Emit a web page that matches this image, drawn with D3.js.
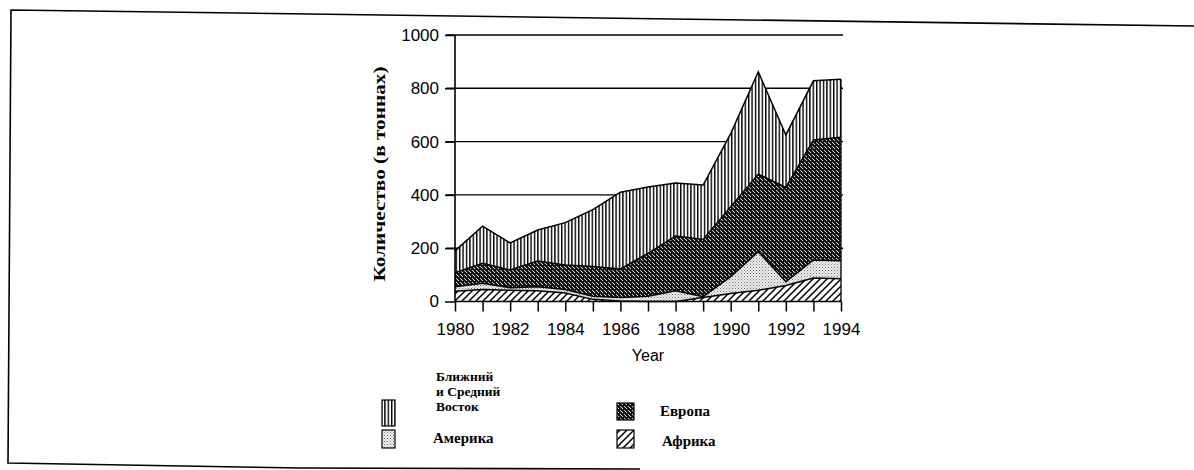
<!DOCTYPE html>
<html><head><meta charset="utf-8">
<script src="https://cdn.jsdelivr.net/npm/d3@7"></script>
<style>html,body{margin:0;padding:0;background:#fff;}svg{display:block;}</style>
</head><body>
<svg id="c" width="1194" height="470"></svg>
<script>
const years = [1980,1981,1982,1983,1984,1985,1986,1987,1988,1989,1990,1991,1992,1993,1994];
const africa = [38,45,42,40,32,8,2,0,0,15,30,42,60,88,85];
const america = [17,23,10,15,13,12,13,20,40,3,63,145,14,68,68];
const europe = [53,75,66,97,92,111,107,161,206,215,263,291,354,450,463];
const middleEast = [82,140,102,116,159,214,288,249,199,204,274,384,197,222,218];
const yTicks = [0,200,400,600,800,1000];
const xTickLabels = [1980,1982,1984,1986,1988,1990,1992,1994];
const seriesNames = ["Африка","Америка","Европа","Ближний и Средний Восток"];

const svg = d3.select("#c");
const x = d3.scaleLinear().domain([1980,1994]).range([455,841]);
const y = d3.scaleLinear().domain([0,1000]).range([301.5,35]);

// patterns
const defs = svg.append("defs");
const pME = defs.append("pattern").attr("id","pME").attr("patternUnits","userSpaceOnUse").attr("width",3.4).attr("height",10);
pME.append("rect").attr("width",3.4).attr("height",10).attr("fill","#fff");
pME.append("rect").attr("x",0).attr("width",1.4).attr("height",10).attr("fill","#000");

const pEU = defs.append("pattern").attr("id","pEU").attr("patternUnits","userSpaceOnUse").attr("width",4).attr("height",4);
pEU.append("rect").attr("width",4).attr("height",4).attr("fill","#fff");
pEU.append("path").attr("d","M0,0L4,4M-1,3L1,5M3,-1L5,1").attr("stroke","#000").attr("stroke-width",2);
pEU.append("rect").attr("x",3).attr("y",1).attr("width",1).attr("height",1).attr("fill","#000");

const pAM = defs.append("pattern").attr("id","pAM").attr("patternUnits","userSpaceOnUse").attr("width",3).attr("height",3);
pAM.append("rect").attr("width",3).attr("height",3).attr("fill","#eee");
pAM.append("rect").attr("x",0).attr("y",0).attr("width",1).attr("height",1).attr("fill","#777");
pAM.append("rect").attr("x",1.5).attr("y",1.5).attr("width",1).attr("height",1).attr("fill","#999");

const pAF = defs.append("pattern").attr("id","pAF").attr("patternUnits","userSpaceOnUse").attr("width",7).attr("height",7);
pAF.append("rect").attr("width",7).attr("height",7).attr("fill","#fff");
pAF.append("path").attr("d","M0,7L7,0M-1,1L1,-1M6,8L8,6").attr("stroke","#000").attr("stroke-width",1.5);

const fills = ["url(#pAF)","url(#pAM)","url(#pEU)","url(#pME)"];

// frame
svg.append("path").attr("d","M1194,26L11,10L8,463L300,468L640,469")
  .attr("fill","none").attr("stroke","#000").attr("stroke-width",1.6);

// gridlines
svg.append("g").selectAll("line").data(yTicks.filter(d=>d>0)).join("line")
  .attr("x1",446).attr("x2",843).attr("y1",d=>y(d)).attr("y2",d=>y(d))
  .attr("stroke","#000").attr("stroke-width",1.4);

// stacked areas
const table = years.map((yr,i)=>({year:yr,af:africa[i],am:america[i],eu:europe[i],me:middleEast[i]}));
const stack = d3.stack().keys(["af","am","eu","me"]);
const layers = stack(table);
const area = d3.area().x(d=>x(d.data.year)).y0(d=>y(d[0])).y1(d=>y(d[1]));
const line = d3.line().x(d=>x(d.data.year)).y(d=>y(d[1]));
svg.append("g").selectAll("path.a").data(layers).join("path").attr("class","a")
  .attr("d",area).attr("fill",(d,i)=>fills[i]);
svg.append("g").selectAll("path.l").data(layers).join("path").attr("class","l")
  .attr("d",line).attr("fill","none").attr("stroke","#000").attr("stroke-width",1.5);
// right edge
svg.append("line").attr("x1",x(1994)).attr("x2",x(1994)).attr("y1",y(0)).attr("y2",y(d3.sum([africa,america,europe,middleEast],a=>a[a.length-1])))
  .attr("stroke","#000").attr("stroke-width",1.3);

// axes
const yAxis = d3.axisLeft(y).tickValues(yTicks).tickSize(10).tickFormat(d3.format("d"));
const gy = svg.append("g").attr("transform",`translate(${x(1980)},0)`).call(yAxis);
const xAxis = d3.axisBottom(x).tickValues(years).tickSize(10).tickFormat(d=>xTickLabels.includes(d)?String(d):"");
const gx = svg.append("g").attr("transform",`translate(0,${y(0)})`).call(xAxis);
[gy,gx].forEach(g=>{
  g.select(".domain").attr("stroke","#000").attr("stroke-width",1.6);
  g.selectAll(".tick line").attr("stroke","#000").attr("stroke-width",1.5);
  g.selectAll("text").attr("fill","#000").style("font-family","'Liberation Sans',Arial,sans-serif").style("font-size","17px");
});
gy.select(".domain").attr("d",`M0,${y(1000)}V${y(0)}`);
gy.selectAll("text").attr("x",-16);
gx.select(".domain").attr("d",`M${x(1980)},0H${x(1994)}`);
gx.selectAll("text").attr("y",21);

// axis titles
svg.append("text").attr("transform","translate(385,174) rotate(-90)").attr("text-anchor","middle")
  .attr("textLength",215).attr("lengthAdjust","spacingAndGlyphs")
  .style("font-family","'Liberation Serif','Times New Roman',serif").style("font-weight","bold").style("font-size","17px")
  .text("Количество (в тоннах)");
svg.append("text").attr("x",648).attr("y",361).attr("text-anchor","middle")
  .style("font-family","'Liberation Sans',Arial,sans-serif").style("font-size","16px").text("Year");

// legend
const legend = [
  {i:3, px:382, py:400, pw:13, ph:26, tx:436, lines:["Ближний","и Средний","Восток"], ty:381},
  {i:2, px:617, py:403, pw:17, ph:17, tx:660, lines:["Европа"], ty:416},
  {i:1, px:382, py:430, pw:13, ph:18, tx:433, lines:["Америка"], ty:443},
  {i:0, px:617, py:430, pw:17, ph:18, tx:662, lines:["Африка"], ty:446}
];
const lg = svg.append("g").selectAll("g").data(legend).join("g");
lg.append("rect").attr("x",d=>d.px).attr("y",d=>d.py).attr("width",d=>d.pw).attr("height",d=>d.ph)
  .attr("fill",d=>fills[d.i]).attr("stroke","#000").attr("stroke-width",1.2);
lg.each(function(d){
  const g=d3.select(this);
  d.lines.forEach((s,k)=>g.append("text").attr("x",d.tx).attr("y",d.ty+k*15)
    .style("font-family","'Liberation Serif','Times New Roman',serif").style("font-weight","bold")
    .style("font-size",d.lines.length>1?"13.5px":"15px").text(s));
});
</script>
</body></html>
